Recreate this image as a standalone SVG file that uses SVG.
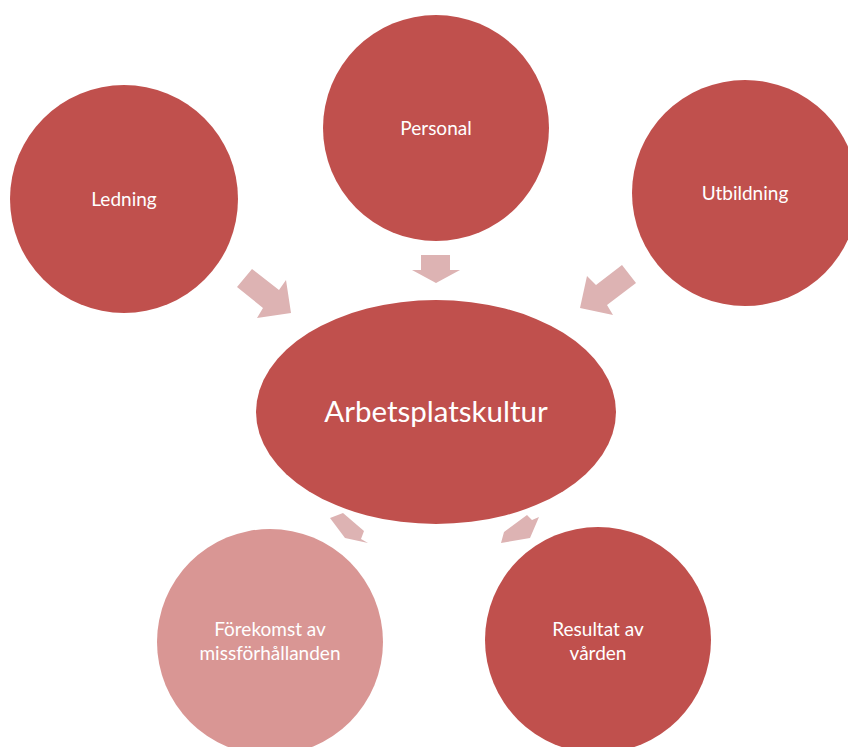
<svg xmlns="http://www.w3.org/2000/svg" width="848" height="747" viewBox="0 0 848 747">
<style>
.dark{fill:#C0504D}
.light{fill:#D99694}
.arrow{fill:#DDB3B3}
.t{font-family:Lato,"Open Sans",sans-serif;fill:#FFFFFF;text-anchor:middle;dominant-baseline:central;font-size:19px}
.big{font-size:29.5px}
</style>
<rect width="848" height="747" fill="#FFFFFF"/>
<g id="connectors">
<polygon class="arrow" points="252,269 279,290 286,280 291,313 257,318 263,308 237,287"/>
<polygon class="arrow" points="421,255 450,255 450,270 460,270 436,283 412,270 421,270"/>
<polygon class="arrow" points="622,265 596,285 587,276 580,308 613,315 607,305 636,283"/>
<polygon class="arrow" points="330,518 343,513 364,531 361,539 368,543 345,538"/>
<polygon class="arrow" points="504,532 527,515 532,520 539,517 530,538 501,543"/>
</g>
<g id="ledning"><circle class="dark" cx="124" cy="199" r="114"/><text class="t" x="124" y="198">Ledning</text></g>
<g id="personal"><circle class="dark" cx="436" cy="128" r="113"/><text class="t" x="436" y="127">Personal</text></g>
<g id="utbildning"><circle class="dark" cx="745" cy="193" r="113"/><text class="t" x="745" y="192">Utbildning</text></g>
<g id="arbetsplatskultur"><ellipse class="dark" cx="436" cy="412" rx="180" ry="112"/><text class="t big" x="436" y="410">Arbetsplatskultur</text></g>
<g id="forekomst"><circle class="light" cx="270" cy="642" r="113"/><text class="t" x="270" y="628">Förekomst av</text><text class="t" x="270" y="652">missförhållanden</text></g>
<g id="resultat"><circle class="dark" cx="598" cy="640" r="113"/><text class="t" x="598" y="628">Resultat av</text><text class="t" x="598" y="652">vården</text></g>
</svg>
